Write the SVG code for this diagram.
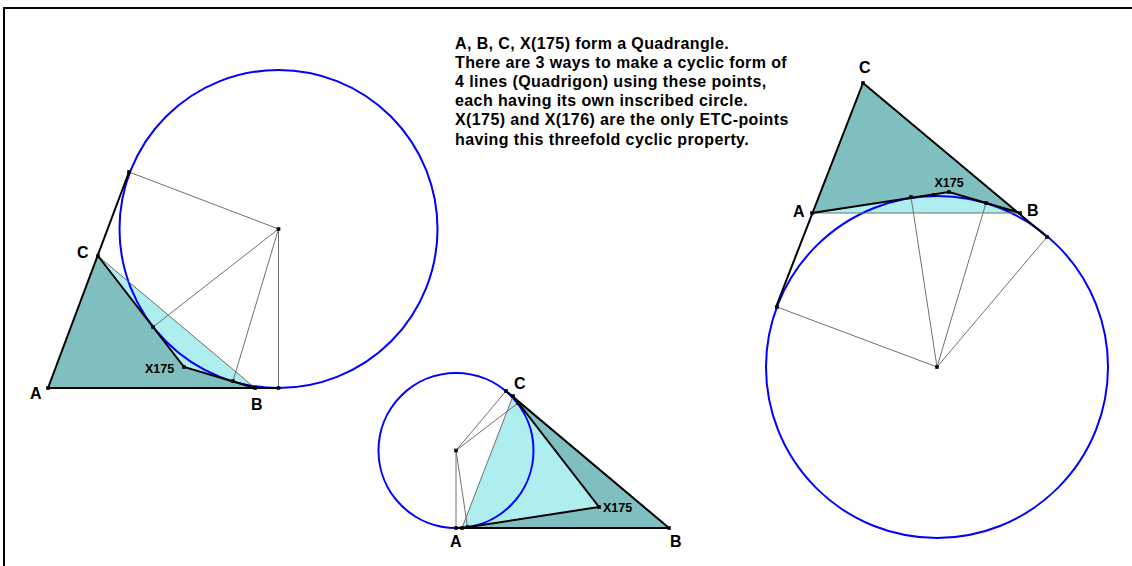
<svg xmlns="http://www.w3.org/2000/svg" width="1132" height="566" viewBox="0 0 1132 566">
<style>
.dark{fill:#80BFBF;stroke:none}
.light{fill:#AFEEEE;stroke:none}
.thin{stroke:#707070;stroke-width:1;fill:none}
.thick{stroke:#000;stroke-width:2;fill:none;stroke-linecap:round}
.circ{stroke:#0000FF;stroke-width:2;fill:none}
.lbl{font-family:"Liberation Sans",Arial,sans-serif;font-weight:bold;font-size:16px;fill:#000}
.sm{font-family:"Liberation Sans",Arial,sans-serif;font-weight:bold;font-size:12.5px;fill:#000}
.txt{font-family:"Liberation Sans",Arial,sans-serif;font-weight:bold;font-size:16px;letter-spacing:0.4px;fill:#000}
.frame{stroke:#000;stroke-width:2;fill:none}
</style>
<defs>
<rect id="dot" x="-1.8" y="-1.8" width="3.6" height="3.6" fill="#000"/>
</defs>
<rect x="0" y="0" width="1132" height="566" fill="#fff"/>
<path class="frame" d="M4,566 V8 H1132"/>

<g id="caption">
<text class="txt" x="455" y="49">A, B, C, X(175) form a Quadrangle.</text>
<text class="txt" x="455" y="68">There are 3 ways to make a cyclic form of</text>
<text class="txt" x="455" y="87">4 lines (Quadrigon) using these points,</text>
<text class="txt" x="455" y="106">each having its own inscribed circle.</text>
<text class="txt" x="455" y="125">X(175) and X(176) are the only ETC-points</text>
<text class="txt" x="455" y="145">having this threefold cyclic property.</text>
</g>

<g id="figure-left">
<polygon class="dark" points="48,388 255,388 98,256"/>
<polygon class="light" points="98,256 255,388 184,367"/>
<circle class="circ" cx="278.5" cy="229" r="159"/>
<g class="thin">
<line x1="98" y1="256" x2="255" y2="388"/>
<line x1="278.5" y1="229" x2="129" y2="172"/>
<line x1="278.5" y1="229" x2="153" y2="327"/>
<line x1="278.5" y1="229" x2="233" y2="381"/>
<line x1="278.5" y1="229" x2="278.5" y2="388"/>
</g>
<g class="thick">
<line x1="48" y1="388" x2="278.5" y2="388"/>
<line x1="48" y1="388" x2="129" y2="172"/>
<polyline points="98,256 184,367 255,388"/>
</g>
<use href="#dot" x="48" y="388"/><use href="#dot" x="255" y="388"/><use href="#dot" x="98" y="256"/>
<use href="#dot" x="184" y="367"/><use href="#dot" x="129" y="172"/><use href="#dot" x="153" y="327"/>
<use href="#dot" x="233" y="381"/><use href="#dot" x="278.5" y="229"/><use href="#dot" x="278.5" y="388"/>
<text class="lbl" x="30" y="399">A</text>
<text class="lbl" x="251" y="410">B</text>
<text class="lbl" x="77" y="258">C</text>
<text class="sm" x="145" y="373">X175</text>
</g>

<g id="figure-middle">
<polygon class="dark" points="462,528 669,527 513,396"/>
<polygon class="light" points="462,528 513,396 599,507"/>
<circle class="circ" cx="456" cy="450.5" r="77.5"/>
<g class="thin">
<line x1="462" y1="528" x2="513" y2="396"/>
<line x1="456" y1="450.5" x2="456" y2="528"/>
<line x1="456" y1="450.5" x2="467.5" y2="527"/>
<line x1="456" y1="450.5" x2="506" y2="391"/>
<line x1="456" y1="450.5" x2="518" y2="403"/>
</g>
<g class="thick">
<line x1="456" y1="528" x2="669" y2="528"/>
<line x1="669" y1="528" x2="506" y2="391"/>
<polyline points="513,396 599,507 462,528"/>
</g>
<use href="#dot" x="462" y="528"/><use href="#dot" x="669" y="528"/><use href="#dot" x="513" y="396"/>
<use href="#dot" x="599" y="507"/><use href="#dot" x="456" y="450.5"/><use href="#dot" x="456" y="528"/>
<use href="#dot" x="506" y="391"/><use href="#dot" x="518" y="403"/><use href="#dot" x="467.5" y="527"/>
<text class="lbl" x="514" y="389">C</text>
<text class="lbl" x="450" y="547">A</text>
<text class="lbl" x="670" y="547">B</text>
<text class="sm" x="603" y="512">X175</text>
</g>

<g id="figure-right">
<polygon class="dark" points="812,213 1020,213 863,83"/>
<polygon class="light" points="812,213 949,192 1020,213"/>
<circle class="circ" cx="937" cy="367" r="171"/>
<g class="thin">
<line x1="812" y1="213" x2="1020" y2="213"/>
<line x1="937" y1="367" x2="777" y2="307"/>
<line x1="937" y1="367" x2="911" y2="197"/>
<line x1="937" y1="367" x2="986" y2="203"/>
<line x1="937" y1="367" x2="1047" y2="237"/>
</g>
<g class="thick">
<line x1="863" y1="83" x2="776" y2="307"/>
<line x1="863" y1="83" x2="1047" y2="237"/>
<polyline points="812,213 949,192 1020,213"/>
</g>
<use href="#dot" x="812" y="213"/><use href="#dot" x="1020" y="213"/><use href="#dot" x="863" y="83"/>
<use href="#dot" x="949" y="192"/><use href="#dot" x="937" y="367"/><use href="#dot" x="777" y="307"/>
<use href="#dot" x="911" y="197"/><use href="#dot" x="986" y="203"/><use href="#dot" x="1047" y="237"/>
<use href="#dot" x="934" y="195"/>
<text class="lbl" x="859" y="73">C</text>
<text class="lbl" x="793" y="217">A</text>
<text class="lbl" x="1027" y="216">B</text>
<text class="sm" x="949" y="187" text-anchor="middle">X175</text>
</g>
</svg>
